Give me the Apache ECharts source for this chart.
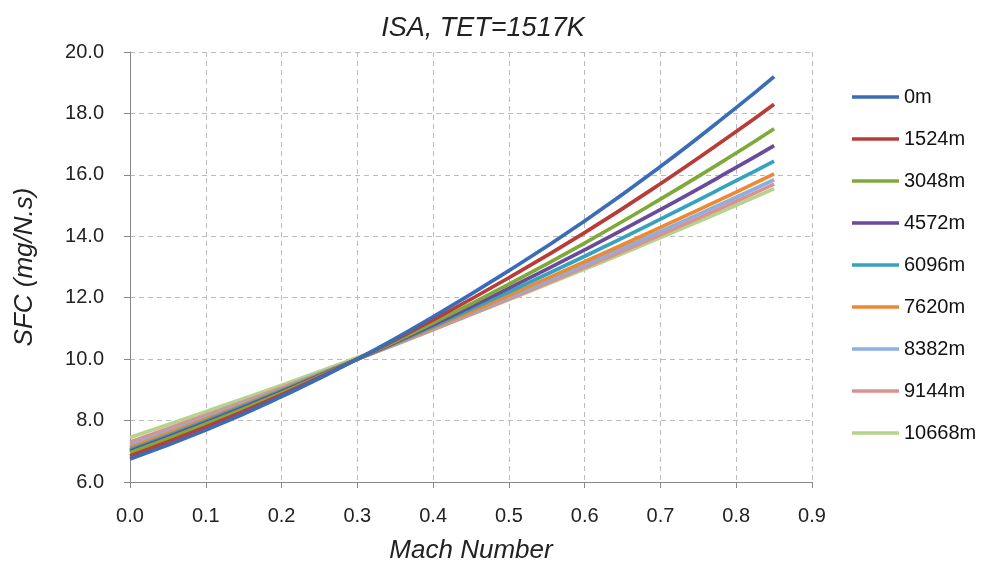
<!DOCTYPE html>
<html><head><meta charset="utf-8">
<script src="https://cdn.jsdelivr.net/npm/echarts@6/dist/echarts.min.js"></script>
<style>html,body{margin:0;padding:0;background:#fff}#c{width:987px;height:570px}</style>
</head><body><div id="c"></div>
<script>
const mach = [0, 0.1, 0.2, 0.3, 0.4, 0.5, 0.6, 0.7, 0.8, 0.85];
const seriesNames = ['0m','1524m','3048m','4572m','6096m','7620m','8382m','9144m','10668m'];
const s0m     = [6.75, 7.69, 8.78, 10.00, 11.38, 12.88, 14.50, 16.27, 18.19, 19.20];
const s1524m  = [6.85, 7.79, 8.84, 10.00, 11.28, 12.65, 14.12, 15.71, 17.41, 18.30];
const s3048m  = [6.95, 7.89, 8.90, 10.00, 11.18, 12.44, 13.78, 15.21, 16.71, 17.50];
const s4572m  = [7.00, 7.94, 8.94, 10.00, 11.12, 12.31, 13.56, 14.87, 16.24, 16.95];
const s6096m  = [7.05, 7.99, 8.97, 10.00, 11.07, 12.19, 13.35, 14.56, 15.81, 16.45];
const s7620m  = [7.12, 8.05, 9.01, 10.00, 11.02, 12.08, 13.17, 14.29, 15.44, 16.03];
const s8382m  = [7.20, 8.10, 9.04, 10.00, 10.99, 12.02, 13.07, 14.16, 15.27, 15.84];
const s9144m  = [7.30, 8.17, 9.07, 10.00, 10.96, 11.96, 12.99, 14.05, 15.14, 15.70];
const s10668m = [7.45, 8.29, 9.15, 10.05, 10.98, 11.94, 12.93, 13.96, 15.01, 15.55];
const seriesData = [s0m, s1524m, s3048m, s4572m, s6096m, s7620m, s8382m, s9144m, s10668m];
const colors = ['#3a6db5','#b83c3a','#7faa3a','#6a4a9a','#36a2bd','#ec8a33','#8daee0','#dc9090','#b3d48a'];

const font = '"Liberation Sans", Arial, sans-serif';
const chart = echarts.init(document.getElementById('c'), null, {renderer:'canvas'});
chart.setOption({
  animation: false,
  backgroundColor: '#fff',
  title: {
    text: 'ISA, TET=1517K', left: 478, top: 10, textAlign: 'center',
    textStyle: {fontFamily: font, fontSize: 27, fontWeight: 'normal', fontStyle: 'italic', color: '#222'}
  },
  legend: {
    orient: 'vertical', left: 847, top: 82, itemWidth: 47, itemHeight: 3.5, itemGap: 22,
    icon: 'rect',
    textStyle: {fontFamily: font, fontSize: 20, color: '#111'},
    data: seriesNames
  },
  grid: {left: 130, right: 175, top: 52, bottom: 88, containLabel: false},
  xAxis: {
    type: 'value', min: 0, max: 0.9, interval: 0.1,
    name: 'Mach Number', nameLocation: 'middle', nameGap: 56,
    nameTextStyle: {fontFamily: font, fontSize: 26, fontStyle: 'italic', color: '#222'},
    axisLine: {lineStyle: {color: '#888', width: 1}},
    axisTick: {show: true, length: 6, lineStyle: {color: '#888'}},
    axisLabel: {fontFamily: font, fontSize: 20, color: '#222', margin: 24, formatter: v => v.toFixed(1)},
    splitLine: {show: true, lineStyle: {color: '#bbb', type: [5,4], width: 1}}
  },
  yAxis: {
    type: 'value', min: 6, max: 20, interval: 2,
    name: 'SFC (mg/N.s)', nameLocation: 'middle', nameGap: 92, nameRotate: 90,
    nameTextStyle: {fontFamily: font, fontSize: 26, fontStyle: 'italic', color: '#222'},
    axisLine: {show: true, lineStyle: {color: '#888', width: 1}},
    axisTick: {show: true, length: 6, lineStyle: {color: '#888'}},
    axisLabel: {fontFamily: font, fontSize: 20, color: '#222', margin: 26, formatter: v => v.toFixed(1)},
    splitLine: {show: true, lineStyle: {color: '#bbb', type: [5,4], width: 1}}
  },
  series: seriesNames.map((n, i) => ({
    name: n, type: 'line', smooth: true, symbol: 'none',
    data: mach.map((m, j) => [m, seriesData[i][j]]),
    lineStyle: {color: colors[i], width: 3.7},
    itemStyle: {color: colors[i]},
    z: 20 - i
  }))
});
</script></body></html>
